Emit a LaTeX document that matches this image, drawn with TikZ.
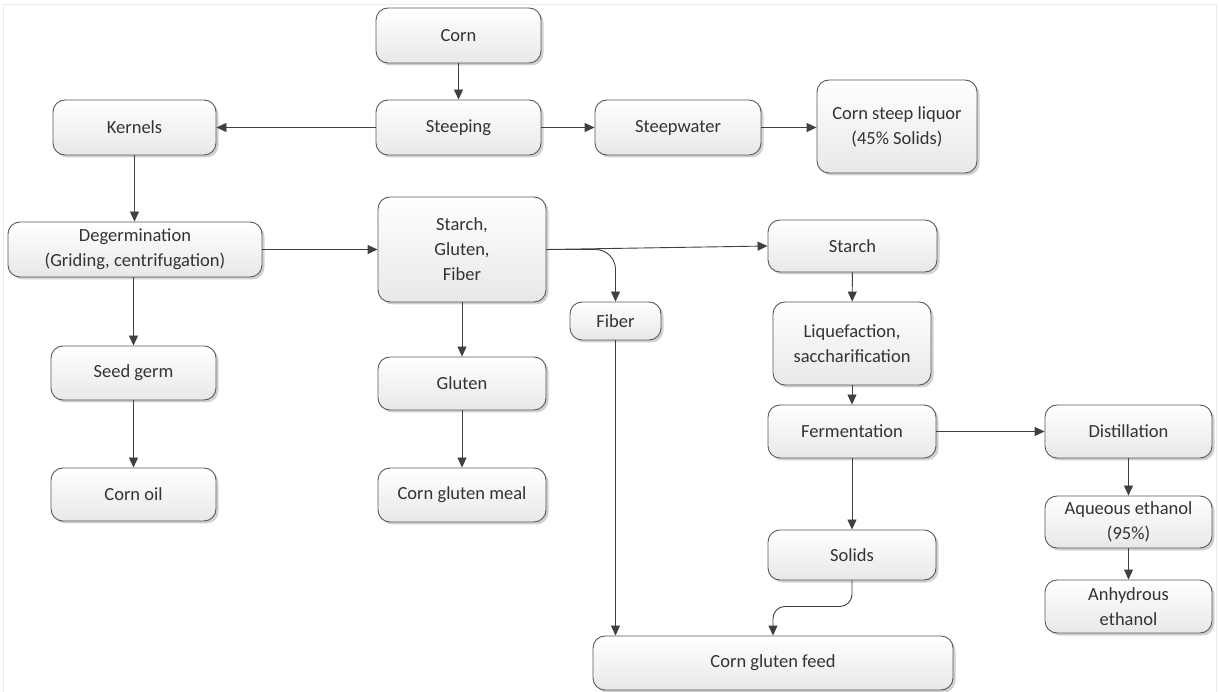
\documentclass[tikz,border=0pt]{standalone}
\usepackage{fontspec}
\setmainfont{Carlito}
\usetikzlibrary{arrows.meta,shadows,calc}
\begin{document}
\begin{tikzpicture}[x=1pt,y=-1pt,
  box/.style={draw=black!65, line width=0.9pt, rounded corners=12pt,
    top color=white, bottom color=black!9,
    drop shadow={shadow xshift=2.5pt,shadow yshift=-2.5pt,opacity=0.18,fill=black},
    align=center, font=\fontsize{18.5}{25}\selectfont, text=black!80,
    inner sep=2pt},
  arr/.style={draw=black!75, line width=0.9pt, -{Triangle[length=10pt,width=9pt]}}
]
\useasboundingbox (0,0) rectangle (1219,692);
\draw[black!8, line width=1pt] (3,692) -- (3,5) -- (1216,5) -- (1216,692);

\node[box, minimum width=165pt, minimum height=55pt] (corn) at (458.5,35.5) {Corn};
\node[box, minimum width=165pt, minimum height=55pt] (steep) at (458.5,127.5) {Steeping};
\node[box, minimum width=163pt, minimum height=55pt] (kern) at (134.5,127.5) {Kernels};
\node[box, minimum width=166pt, minimum height=55pt] (sw) at (678,127.5) {Steepwater};
\node[box, minimum width=160pt, minimum height=93pt] (csl) at (897,126.5) {Corn steep liquor\\(45\% Solids)};
\node[box, minimum width=254pt, minimum height=55pt] (deg) at (135,249.5) {Degermination\\(Griding, centrifugation)};
\node[box, minimum width=168pt, minimum height=105pt] (sgf) at (462,249.5) {Starch,\\Gluten,\\Fiber};
\node[box, minimum width=169pt, minimum height=52pt] (starch) at (852.5,246) {Starch};
\node[box, minimum width=91pt, minimum height=38pt] (fiber) at (615.5,321) {Fiber};
\node[box, minimum width=165pt, minimum height=54pt] (germ) at (133.5,373) {Seed germ};
\node[box, minimum width=168pt, minimum height=53pt] (gluten) at (462,383.5) {Gluten};
\node[box, minimum width=158pt, minimum height=83pt] (liq) at (852,343.5) {Liquefaction,\\saccharification};
\node[box, minimum width=168pt, minimum height=53pt] (ferm) at (852,431.5) {Fermentation};
\node[box, minimum width=167pt, minimum height=53pt] (dist) at (1128.5,431.5) {Distillation};
\node[box, minimum width=165pt, minimum height=53pt] (oil) at (133.5,494.5) {Corn oil};
\node[box, minimum width=168pt, minimum height=54pt] (cgm) at (462,495) {Corn gluten meal};
\node[box, minimum width=168pt, minimum height=50pt] (solids) at (852,555) {Solids};
\node[box, minimum width=167pt, minimum height=52pt] (aq) at (1128.5,522) {Aqueous ethanol\\(95\%)};
\node[box, minimum width=167pt, minimum height=53pt] (anh) at (1128.5,606.5) {Anhydrous\\ethanol};
\node[box, minimum width=360pt, minimum height=54pt] (cgf) at (773,663) {Corn gluten feed};

\draw[arr] (corn) -- (steep);
\draw[arr] (steep) -- (kern);
\draw[arr] (steep) -- (sw);
\draw[arr] (sw) -- (csl.west |- sw.east);
\draw[arr] (kern) -- (kern |- deg.north);
\draw[arr] (deg) -- (sgf.west |- deg.east);
\draw[arr] (sgf.east) -- (starch.west);
\draw[arr, rounded corners=20pt] (sgf.east) -| (fiber.north);
\draw[arr] (sgf) -- (gluten);
\draw[arr] (deg.south -| germ.north) -- (germ.north);
\draw[arr] (germ) -- (oil);
\draw[arr] (gluten) -- (cgm);
\draw[arr] (fiber.south) -- (fiber.south |- cgf.north);
\draw[arr] (starch) -- (liq);
\draw[arr] (liq) -- (ferm);
\draw[arr] (ferm) -- (dist);
\draw[arr] (ferm) -- (solids);
\draw[arr, rounded corners=12pt] (solids.south) -- ++(0,26) -| (cgf.north);
\draw[arr] (dist) -- (aq);
\draw[arr] (aq) -- (anh);
\end{tikzpicture}
\end{document}
